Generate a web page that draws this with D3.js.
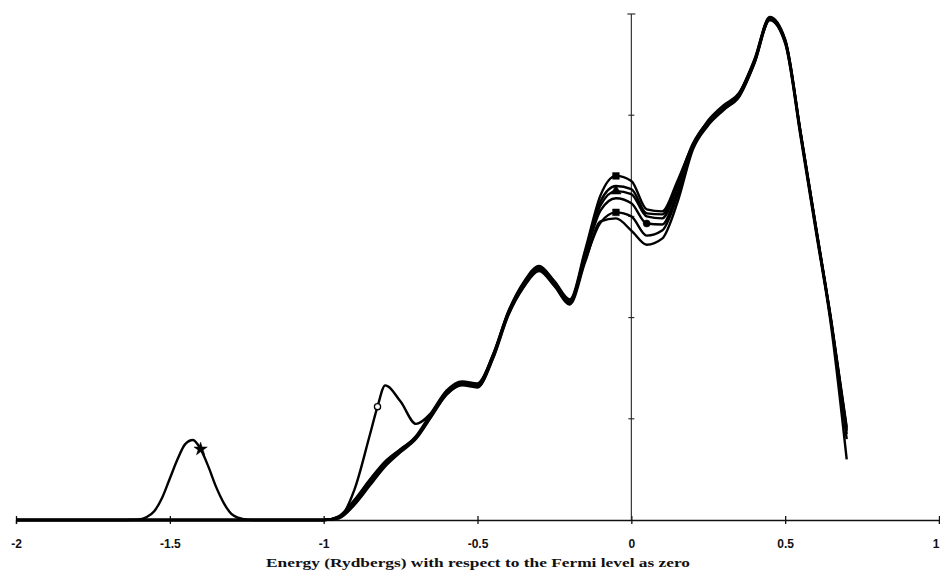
<!DOCTYPE html>
<html>
<head>
<meta charset="utf-8">
<script src="https://cdn.jsdelivr.net/npm/d3@7"></script>
<style>
  body { margin: 0; background: #fff; }
  svg { display: block; }
</style>
</head>
<body>
<div id="chart"></div>
<script>
'use strict';

// energy grid (Rydbergs, Fermi level = 0) shared by the valence band curves
var bandEnergy = [-1.0, -0.95, -0.9, -0.85, -0.8, -0.75, -0.7, -0.65, -0.6, -0.55, -0.5,
  -0.45, -0.4, -0.35, -0.3, -0.25, -0.2, -0.15, -0.1, -0.05, 0, 0.05, 0.1, 0.15, 0.2,
  0.25, 0.3, 0.35, 0.4, 0.45, 0.5, 0.55, 0.6, 0.65, 0.7];

// same grid, with one extra point where the circle marker sits
var circleEnergy = [-1.0, -0.95, -0.9, -0.85, -0.825, -0.8, -0.75, -0.7, -0.65, -0.6, -0.55, -0.5,
  -0.45, -0.4, -0.35, -0.3, -0.25, -0.2, -0.15, -0.1, -0.05, 0, 0.05, 0.1, 0.15, 0.2,
  0.25, 0.3, 0.35, 0.4, 0.45, 0.5, 0.55, 0.6, 0.65, 0.7];

// semi-core peak of the star curve
var coreEnergy = [-1.65, -1.625, -1.6, -1.575, -1.55, -1.525, -1.5, -1.475, -1.45, -1.425,
  -1.4, -1.375, -1.35, -1.325, -1.3, -1.275, -1.25, -1.225];
var coreStar = [0, 0.002, 0.006, 0.03, 0.09, 0.22, 0.41, 0.60, 0.75, 0.79,
  0.70, 0.53, 0.33, 0.17, 0.06, 0.02, 0.004, 0];

var bandStar = [0, 0.02, 0.15, 0.34, 0.53, 0.67, 0.80, 1.02, 1.24, 1.34, 1.32, 1.59, 2.02, 2.30,
  2.46, 2.31, 2.13, 2.55, 2.95, 2.98, 2.86, 2.72, 2.78, 3.14, 3.66, 3.90, 4.05, 4.19, 4.52,
  4.94, 4.71, 3.79, 2.85, 1.90, 0.60];
var bandCircle = [0, 0.02, 0.30, 0.84, 1.12, 1.33, 1.17, 0.95, 1.06, 1.27, 1.36, 1.34, 1.62, 2.05,
  2.34, 2.50, 2.35, 2.17, 2.62, 3.15, 3.30, 3.27, 3.03, 3.02, 3.32, 3.72, 3.94, 4.09, 4.21,
  4.54, 4.96, 4.74, 3.83, 2.89, 1.96, 0.90];
var bandSquareTop = [0, 0.02, 0.16, 0.36, 0.55, 0.69, 0.83, 1.06, 1.28, 1.37, 1.35, 1.63, 2.06, 2.35,
  2.51, 2.36, 2.18, 2.67, 3.21, 3.40, 3.35, 3.07, 3.05, 3.35, 3.71, 3.95, 4.10, 4.22, 4.55,
  4.97, 4.75, 3.84, 2.90, 1.97, 0.92];
var bandTriangle = [0, 0.03, 0.18, 0.38, 0.57, 0.70, 0.82, 1.04, 1.26, 1.35, 1.33, 1.61, 2.04, 2.33,
  2.49, 2.34, 2.16, 2.64, 3.11, 3.25, 3.22, 3.00, 2.98, 3.30, 3.70, 3.93, 4.08, 4.19, 4.52,
  4.95, 4.74, 3.83, 2.89, 1.95, 0.88];
var bandDot = [0, 0.04, 0.20, 0.40, 0.58, 0.70, 0.81, 1.03, 1.24, 1.33, 1.31, 1.60, 2.03, 2.31,
  2.47, 2.32, 2.14, 2.61, 3.06, 3.18, 3.13, 2.93, 2.92, 3.25, 3.69, 3.92, 4.06, 4.18, 4.51,
  4.94, 4.72, 3.81, 2.87, 1.94, 0.85];
var bandSquareLow = [0, 0.03, 0.17, 0.35, 0.54, 0.68, 0.81, 1.04, 1.25, 1.36, 1.34, 1.63, 2.05, 2.32,
  2.48, 2.33, 2.15, 2.57, 2.94, 3.04, 3.00, 2.81, 2.86, 3.20, 3.68, 3.91, 4.07, 4.21, 4.54,
  4.96, 4.73, 3.82, 2.88, 1.94, 0.80];

var xTicks = [-2, -1.5, -1, -0.5, 0, 0.5, 1];
var yTicks = [0, 1, 2, 3, 4, 5];
var xTitle = 'Energy (Rydbergs) with respect to the Fermi level as zero';

function zip(es, vs) {
  return es.map(function (e, i) { return [e, vs[i]]; });
}

// each curve runs along the axis from -2 before rising
var series = [
  { name: 'star', marker: 'star', at: -1.4,
    points: [[-2, 0]].concat(zip(coreEnergy, coreStar), zip(bandEnergy, bandStar)) },
  { name: 'circle', marker: 'open', at: -0.825,
    points: [[-2, 0]].concat(zip(circleEnergy, bandCircle)) },
  { name: 'squareTop', marker: 'square', at: -0.05,
    points: [[-2, 0]].concat(zip(bandEnergy, bandSquareTop)) },
  { name: 'triangle', marker: 'triangle', at: -0.05,
    points: [[-2, 0]].concat(zip(bandEnergy, bandTriangle)) },
  { name: 'dot', marker: 'dot', at: 0.05,
    points: [[-2, 0]].concat(zip(bandEnergy, bandDot)) },
  { name: 'squareLow', marker: 'square', at: -0.05,
    points: [[-2, 0]].concat(zip(bandEnergy, bandSquareLow)) }
];

var width = 940, height = 578;

var svg = d3.select('#chart').append('svg')
  .attr('width', width)
  .attr('height', height)
  .style('background', '#fff');

var x = d3.scaleLinear().domain([-2, 1]).range([16, 939]);
var y = d3.scaleLinear().domain([0, 5]).range([520, 14]);

//X axis, ticks cross the line
var xAxis = svg.append('g')
  .attr('transform', 'translate(0,' + y(0) + ')')
  .call(d3.axisBottom(x)
    .tickValues(xTicks)
    .tickSize(4)
    .tickPadding(15)
    .tickFormat(function (d) { return String(d); }));
xAxis.select('.domain').attr('stroke', '#111').attr('stroke-width', 1.3);
xAxis.selectAll('.tick line').attr('y1', -4).attr('stroke', '#111').attr('stroke-width', 1.3);
xAxis.selectAll('.tick text')
  .attr('fill', '#111')
  .style('font-family', '"Liberation Sans", Arial, sans-serif')
  .style('font-weight', 'bold')
  .style('font-size', '12px')
  // last label sits on the right edge: keep it inside the page
  .attr('text-anchor', function (d) { return d === 1 ? 'end' : 'middle'; });

//Y axis at the Fermi level, no labels
svg.append('line')
  .attr('x1', x(0)).attr('x2', x(0))
  .attr('y1', y(0)).attr('y2', y(5))
  .attr('stroke', '#222')
  .attr('stroke-width', 1.1);
svg.selectAll('.ytick')
  .data(yTicks.slice(1))
  .enter()
  .append('line')
  .classed('ytick', 1)
  .attr('x1', function (d) { return x(0) - (d === 5 ? 4 : 3); })
  .attr('x2', function (d) { return x(0) + (d === 5 ? 4 : 3); })
  .attr('y1', function (d) { return y(d); })
  .attr('y2', function (d) { return y(d); })
  .attr('stroke', '#222')
  .attr('stroke-width', 1.1);

//Draw curves
var line = d3.line()
  .x(function (d) { return x(d[0]); })
  .y(function (d) { return y(d[1]); })
  .curve(d3.curveMonotoneX);

svg.selectAll('.curve')
  .data(series)
  .enter()
  .append('path')
  .classed('curve', 1)
  .attr('d', function (d) { return line(d.points); })
  .attr('fill', 'none')
  .attr('stroke', '#000')
  .attr('stroke-width', 2.4)
  .attr('stroke-linejoin', 'round');

//Markers, one on each curve
var symbols = {
  star: d3.symbol().type(d3.symbolStar).size(55),
  open: d3.symbol().type(d3.symbolCircle).size(30),
  square: d3.symbol().type(d3.symbolSquare).size(45),
  triangle: d3.symbol().type(d3.symbolTriangle).size(45),
  dot: d3.symbol().type(d3.symbolCircle).size(40)
};

svg.selectAll('.marker')
  .data(series)
  .enter()
  .append('path')
  .classed('marker', 1)
  .attr('d', function (d) { return symbols[d.marker](); })
  .attr('transform', function (d) {
    var p = d.points.find(function (q) { return Math.abs(q[0] - d.at) < 1e-9; });
    return 'translate(' + x(p[0]) + ',' + y(p[1]) + ')';
  })
  .attr('fill', function (d) { return d.marker === 'open' ? '#fff' : '#000'; })
  .attr('stroke', '#000')
  .attr('stroke-width', function (d) { return d.marker === 'open' ? 1.3 : 0.5; });

//Axis title, wide bold serif as in the scan
svg.append('text')
  .attr('x', 478)
  .attr('y', 567)
  .attr('text-anchor', 'middle')
  .attr('textLength', 424)
  .attr('lengthAdjust', 'spacingAndGlyphs')
  .style('font-family', '"Liberation Serif", "Times New Roman", serif')
  .style('font-weight', 'bold')
  .style('font-size', '13px')
  .attr('fill', '#111')
  .text(xTitle);
</script>
</body>
</html>
